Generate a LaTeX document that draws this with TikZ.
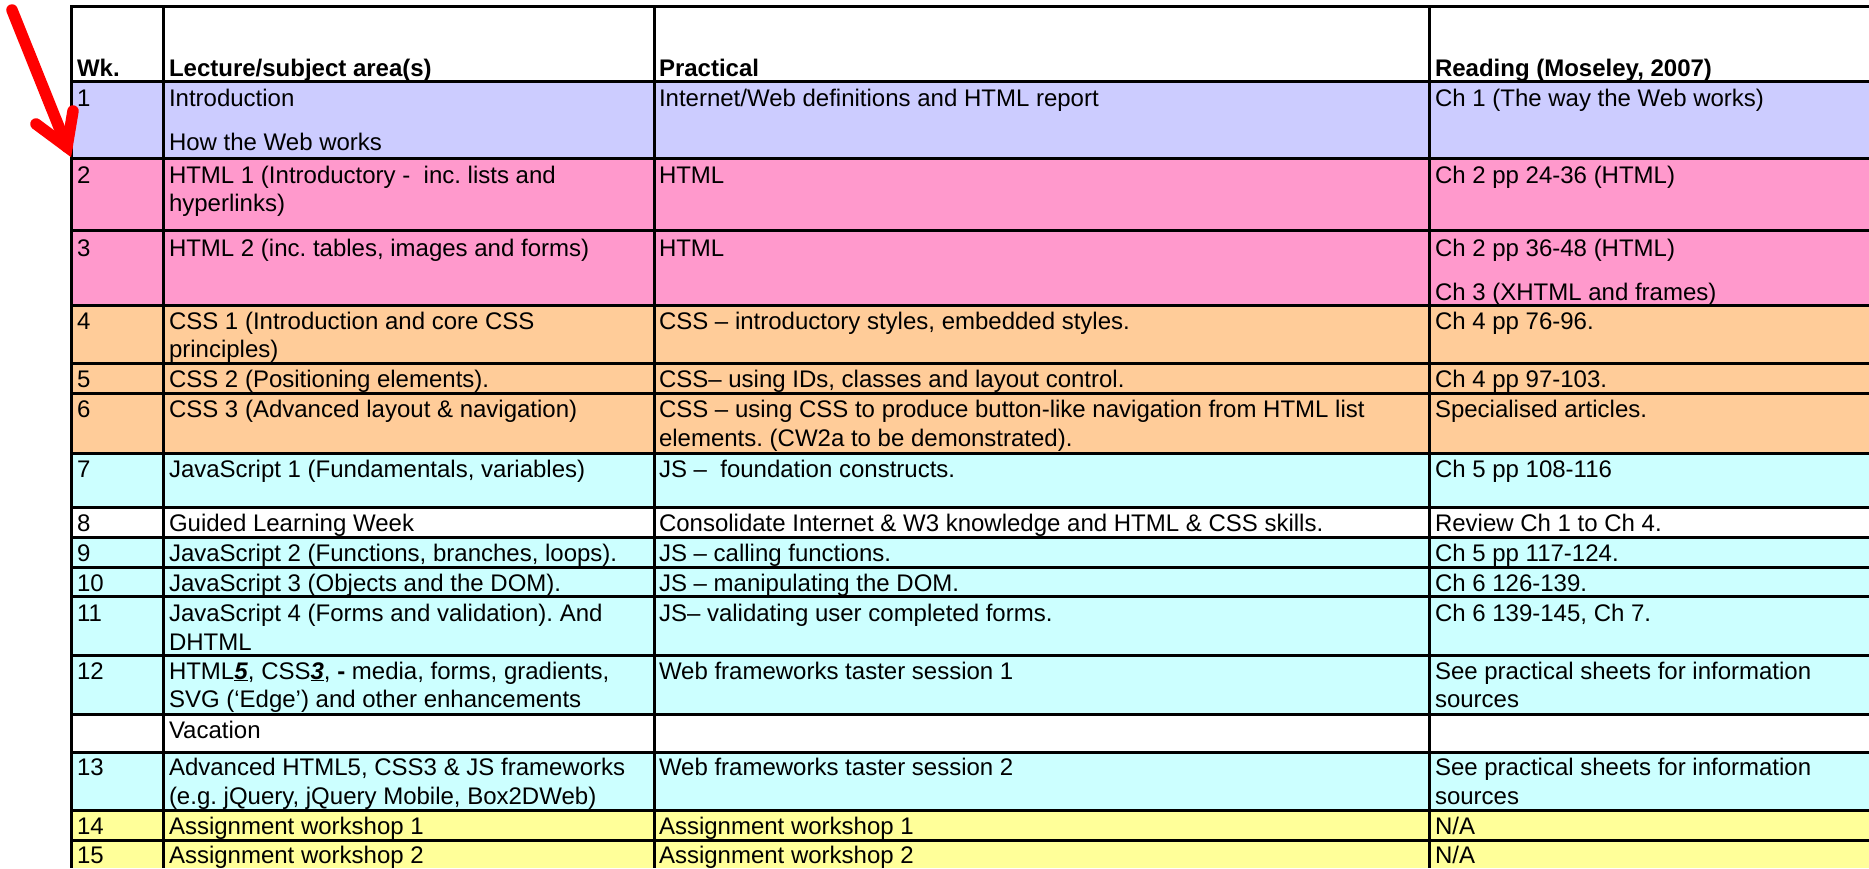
\documentclass[tikz,border=0pt]{standalone}
\usepackage{fontspec}
\setmainfont{Liberation Sans}
\frenchspacing
\definecolor{lav}{HTML}{CCCCFF}
\definecolor{pnk}{HTML}{FF99CC}
\definecolor{pch}{HTML}{FFCC99}
\definecolor{aqu}{HTML}{CCFFFF}
\definecolor{lem}{HTML}{FFFF99}
\definecolor{arrowred}{HTML}{FF0000}
\tikzset{
  celltext/.style={anchor=base west, inner sep=0pt, outer sep=0pt,
    font=\fontsize{24}{28}\selectfont\frenchspacing},
  headtext/.style={celltext, font=\fontsize{24}{28}\selectfont\bfseries},
  rule/.style={line width=3pt, black},
  pointer/.style={arrowred, line width=11.5pt, line cap=round, line join=miter}
}
% one line of text in a cell: name, x, baseline y, text
\newcommand\cellline[4]{\node[celltext] (#1) at (#2,#3) {#4};}
\begin{document}
\begin{tikzpicture}[x=1pt,y=-1pt]
\useasboundingbox (0,0) rectangle (1869,868);
\clip (0,0) rectangle (1869,868);
\fill[white] (0,0) rectangle (1869,868);

% row backgrounds
\fill[lav] (71,81)  rectangle (1869,158);
\fill[pnk] (71,158) rectangle (1869,305);
\fill[pch] (71,305) rectangle (1869,453);
\fill[aqu] (71,453) rectangle (1869,507);
\fill[aqu] (71,537) rectangle (1869,714);
\fill[aqu] (71,752) rectangle (1869,810);
\fill[lem] (71,810) rectangle (1869,868);

% horizontal rules
\foreach \yy in {6,81,158,230,305,363,393,453,507,537,567,596,655,714,752,810,840}
  \draw[rule] (70,\yy) -- (1869,\yy);
% vertical rules
\foreach \xx in {71,163,654,1429}
  \draw[rule] (\xx,5) -- (\xx,868);

% column x positions
\def\ca{77}\def\cb{169}\def\cc{659}\def\cd{1435}

% header
\node[headtext] (hwk)  at (\ca,76) {Wk.};
\node[headtext] (hlec) at (\cb,76) {Lecture/subject area(s)};
\node[headtext] (hpra) at (\cc,76) {Practical};
\node[headtext] (hrea) at (\cd,76) {Reading (Moseley, 2007)};

% week 1
\cellline{w1}{\ca}{106}{1}
\cellline{l1a}{\cb}{106}{Introduction}
\cellline{l1b}{\cb}{150}{How the Web works}
\cellline{p1}{\cc}{106}{Internet/Web definitions and HTML report}
\cellline{r1}{\cd}{106}{Ch 1 (The way the Web works)}
% week 2
\cellline{w2}{\ca}{183}{2}
\cellline{l2a}{\cb}{183}{HTML 1 (Introductory -\ \ inc. lists and}
\cellline{l2b}{\cb}{211}{hyperlinks)}
\cellline{p2}{\cc}{183}{HTML}
\cellline{r2}{\cd}{183}{Ch 2 pp 24-36 (HTML)}
% week 3
\cellline{w3}{\ca}{256}{3}
\cellline{l3}{\cb}{256}{HTML 2 (inc. tables, images and forms)}
\cellline{p3}{\cc}{256}{HTML}
\cellline{r3a}{\cd}{256}{Ch 2 pp 36-48 (HTML)}
\cellline{r3b}{\cd}{300}{Ch 3 (XHTML and frames)}
% week 4
\cellline{w4}{\ca}{329}{4}
\cellline{l4a}{\cb}{329}{CSS 1 (Introduction and core CSS}
\cellline{l4b}{\cb}{357}{principles)}
\cellline{p4}{\cc}{329}{CSS – introductory styles, embedded styles.}
\cellline{r4}{\cd}{329}{Ch 4 pp 76-96.}
% week 5
\cellline{w5}{\ca}{387}{5}
\cellline{l5}{\cb}{387}{CSS 2 (Positioning elements).}
\cellline{p5}{\cc}{387}{CSS– using IDs, classes and layout control.}
\cellline{r5}{\cd}{387}{Ch 4 pp 97-103.}
% week 6
\cellline{w6}{\ca}{417}{6}
\cellline{l6}{\cb}{417}{CSS 3 (Advanced layout \& navigation)}
\cellline{p6a}{\cc}{417}{CSS – using CSS to produce button-like navigation from HTML list}
\cellline{p6b}{\cc}{446}{elements. (CW2a to be demonstrated).}
\cellline{r6}{\cd}{417}{Specialised articles.}
% week 7
\cellline{w7}{\ca}{477}{7}
\cellline{l7}{\cb}{477}{JavaScript 1 (Fundamentals, variables)}
\cellline{p7}{\cc}{477}{JS –\ \ foundation constructs.}
\cellline{r7}{\cd}{477}{Ch 5 pp 108-116}
% week 8
\cellline{w8}{\ca}{531}{8}
\cellline{l8}{\cb}{531}{Guided Learning Week}
\cellline{p8}{\cc}{531}{Consolidate Internet \& W3 knowledge and HTML \& CSS skills.}
\cellline{r8}{\cd}{531}{Review Ch 1 to Ch 4.}
% week 9
\cellline{w9}{\ca}{561}{9}
\cellline{l9}{\cb}{561}{JavaScript 2 (Functions, branches, loops).}
\cellline{p9}{\cc}{561}{JS – calling functions.}
\cellline{r9}{\cd}{561}{Ch 5 pp 117-124.}
% week 10
\cellline{w10}{\ca}{591}{10}
\cellline{l10}{\cb}{591}{JavaScript 3 (Objects and the DOM).}
\cellline{p10}{\cc}{591}{JS – manipulating the DOM.}
\cellline{r10}{\cd}{591}{Ch 6 126-139.}
% week 11
\cellline{w11}{\ca}{621}{11}
\cellline{l11a}{\cb}{621}{JavaScript 4 (Forms and validation). And}
\cellline{l11b}{\cb}{650}{DHTML}
\cellline{p11}{\cc}{621}{JS– validating user completed forms.}
\cellline{r11}{\cd}{621}{Ch 6 139-145, Ch 7.}
% week 12
\cellline{w12}{\ca}{679}{12}
\cellline{l12a}{\cb}{679}{HTML\underline{\textbf{\textit{5}}}, CSS\underline{\textbf{\textit{3}}}, \textbf{-} media, forms, gradients,}
\cellline{l12b}{\cb}{707}{SVG (‘Edge’) and other enhancements}
\cellline{p12}{\cc}{679}{Web frameworks taster session 1}
\cellline{r12a}{\cd}{679}{See practical sheets for information}
\cellline{r12b}{\cd}{707}{sources}
% vacation
\cellline{lvac}{\cb}{738}{Vacation}
% week 13
\cellline{w13}{\ca}{775}{13}
\cellline{l13a}{\cb}{775}{Advanced HTML5, CSS3 \& JS frameworks}
\cellline{l13b}{\cb}{804}{(e.g. jQuery, jQuery Mobile, Box2DWeb)}
\cellline{p13}{\cc}{775}{Web frameworks taster session 2}
\cellline{r13a}{\cd}{775}{See practical sheets for information}
\cellline{r13b}{\cd}{804}{sources}
% week 14
\cellline{w14}{\ca}{834}{14}
\cellline{l14}{\cb}{834}{Assignment workshop 1}
\cellline{p14}{\cc}{834}{Assignment workshop 1}
\cellline{r14}{\cd}{834}{N/A}
% week 15
\cellline{w15}{\ca}{863}{15}
\cellline{l15}{\cb}{863}{Assignment workshop 2}
\cellline{p15}{\cc}{863}{Assignment workshop 2}
\cellline{r15}{\cd}{863}{N/A}

% red pointer at the week 1 / week 2 boundary
\coordinate (ptail) at (12,10);
\coordinate (ptip)  at (67,147);
\coordinate (pleft) at (36,124);
\coordinate (pright) at (73,111);
\draw[pointer] (ptail) -- (ptip);
\draw[pointer] (pleft) -- (ptip) -- (pright);
\end{tikzpicture}
\end{document}
